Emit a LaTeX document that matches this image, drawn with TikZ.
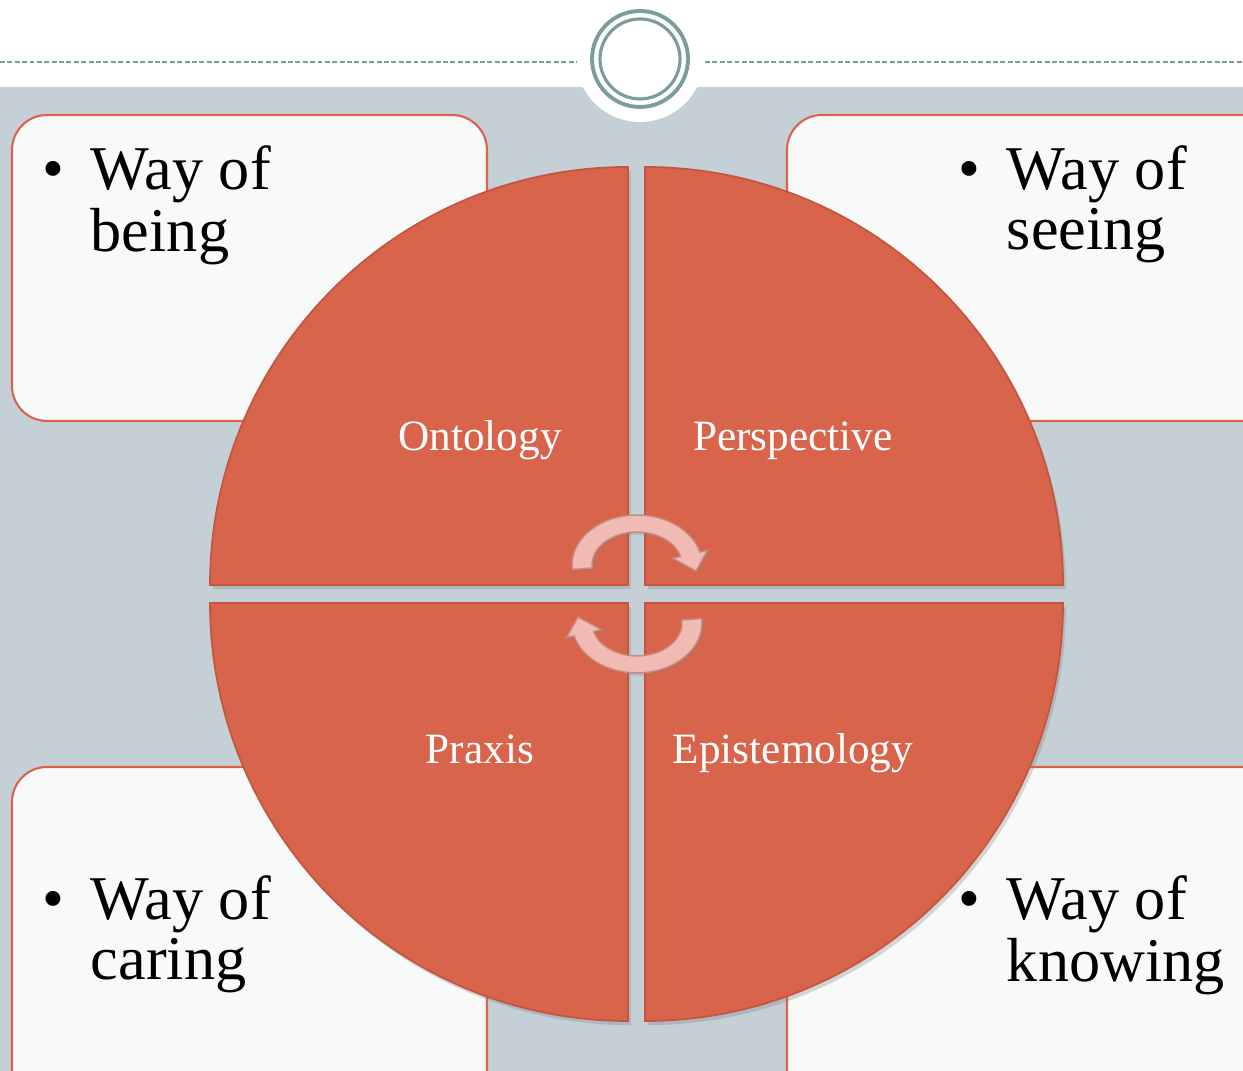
\documentclass[tikz,border=0pt]{standalone}
\usepackage{fontspec}
\setmainfont{Liberation Serif}
\usepackage{tikz}
\usetikzlibrary{shadows}

\definecolor{slate}{RGB}{197,208,214}
\definecolor{ringteal}{RGB}{122,158,155}
\definecolor{brick}{RGB}{217,100,76}
\definecolor{brickedge}{RGB}{196,86,64}
\definecolor{paper}{RGB}{248,249,249}
\definecolor{blush}{RGB}{240,187,178}
\definecolor{blushedge}{RGB}{200,138,128}

\newcommand{\waytext}[1]{\begin{tabular}[t]{@{}l@{\hspace{7.5pt}}l@{}}\textbullet & Way of\\ & #1\end{tabular}}

\begin{document}
\begin{tikzpicture}[
    x=0.01cm, y=0.01cm,
    quadrant/.style={fill=brick, draw=brickedge, line width=0.5pt,
        drop shadow={shadow xshift=0.8pt, shadow yshift=-1.2pt, opacity=0.3}},
    card/.style={fill=paper, draw=brick, line width=0.6pt, rounded corners=0.35cm},
    cycarrow/.style={fill=blush, draw=blushedge, line width=0.4pt,
        drop shadow={shadow xshift=0.6pt, shadow yshift=-0.8pt, opacity=0.25}},
    quadlabel/.style={text=white, anchor=base, inner sep=0pt, font=\fontsize{12.3}{14}\selectfont},
    waylabel/.style={anchor=base west, inner sep=0pt, font=\fontsize{17.7}{17}\selectfont},
    rule/.style={ringteal, line width=0.35pt, dash pattern=on 1.4pt off 0.7pt}
]
% page and backdrop
\useasboundingbox (0,0) rectangle (1243,1071);
\fill[white] (0,0) rectangle (1243,1071);
\fill[slate] (0,0) rectangle (1243,984);
\fill[white] (640,1013) circle[radius=64];

% header rule and rings
\draw[rule] (0,1009) -- (577,1009);
\draw[rule] (705,1009) -- (1243,1009);
\draw[ringteal, line width=1.1pt] (640,1012) circle[radius=48];
\draw[ringteal, line width=0.9pt] (640,1012) circle[radius=40];

% corner cards
\draw[card] (12,650) rectangle (487,956);
\draw[card] (787,650) rectangle (1290,956);
\draw[card] (12,-60) rectangle (487,304);
\draw[card] (787,-60) rectangle (1290,304);

% the four quadrants
\draw[quadrant] (628,486) -- (210,486) arc[start angle=180, end angle=90, radius=418] -- cycle;
\draw[quadrant] (645,486) -- (645,904) arc[start angle=90, end angle=0, radius=418] -- cycle;
\draw[quadrant] (628,468) -- (628,50) arc[start angle=270, end angle=180, radius=418] -- cycle;
\draw[quadrant] (645,468) -- (1063,468) arc[start angle=0, end angle=-90, radius=418] -- cycle;

% cycle arrows
\draw[cycarrow] (572.3,501.6) arc[start angle=185, end angle=15, x radius=65, y radius=50]
    -- (707.5,520.7) -- (696,500) -- (672.8,512.7) -- (680.5,514.5)
    arc[start angle=15, end angle=185, x radius=45, y radius=33] -- cycle;
\draw[cycarrow] (701.7,452.4) arc[start angle=5, end angle=-165, x radius=65, y radius=50]
    -- (566.5,433.3) -- (578,454) -- (601.2,441.3) -- (593.5,439.5)
    arc[start angle=-165, end angle=5, x radius=45, y radius=33] -- cycle;

% quadrant labels
\node[quadlabel] (ontology) at (480,620) {Ontology};
\node[quadlabel] (perspective) at (793,620) {Perspective};
\node[quadlabel] (praxis) at (480,307) {Praxis};
\node[quadlabel] (epistemology) at (793,307) {Epistemology};

% card texts
\node[waylabel] (being) at (42,881) {\waytext{being}};
\node[waylabel] (seeing) at (958,881) {\waytext{seeing}};
\node[waylabel] (caring) at (42,151) {\waytext{caring}};
\node[waylabel] (knowing) at (958,151) {\waytext{knowing}};
\end{tikzpicture}
\end{document}
